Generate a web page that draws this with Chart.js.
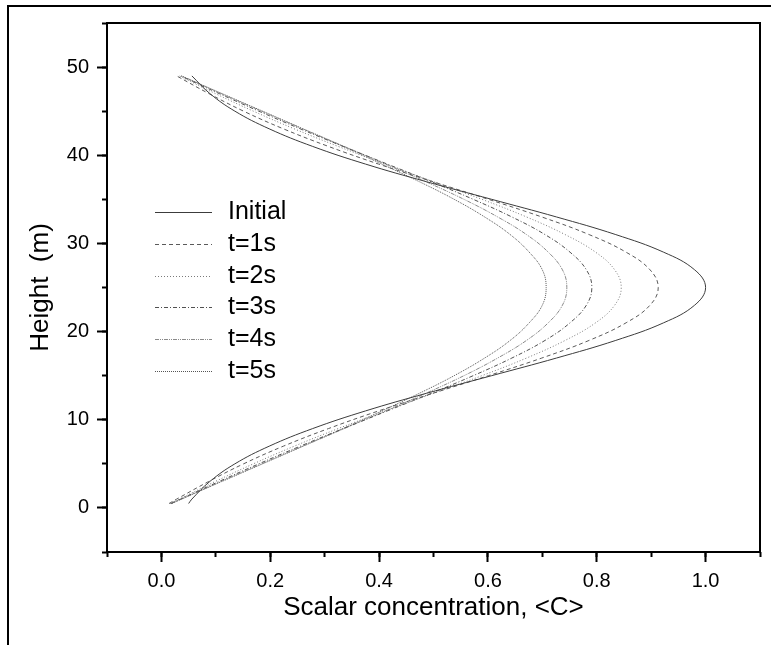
<!DOCTYPE html>
<html>
<head>
<meta charset="utf-8">
<title>Scalar concentration profiles</title>
<script src="https://cdn.jsdelivr.net/npm/chart.js@4.4.1/dist/chart.umd.min.js"></script>
<style>
    html, body { margin: 0; padding: 0; background: #fff; overflow: hidden; }
    #wrap { position: relative; width: 771px; height: 645px; }
    #frame {
        position: absolute; left: 7px; top: 5px; width: 800px; height: 700px;
        border-top: 2px solid #000; border-left: 2px solid #000;
        pointer-events: none;
    }
</style>
</head>
<body>
<div id="wrap">
    <canvas id="profileChart" width="771" height="645"></canvas>
    <div id="frame"></div>
</div>
<script>
    'use strict';

    const heights = [0.5, 1, 3, 5, 7, 9, 11, 13, 15, 17, 19, 21, 23, 25,
                     27, 29, 31, 33, 35, 37, 39, 41, 43, 45, 47, 49];

    // Scalar concentration <C> for each profile, one value per height
    const initial = [0.050, 0.056, 0.089, 0.135, 0.198, 0.278, 0.375, 0.487, 0.607, 0.726, 0.835, 0.923, 0.980, 1.000,
                     0.980, 0.923, 0.835, 0.726, 0.607, 0.487, 0.375, 0.278, 0.198, 0.135, 0.089, 0.056];
    const t1 = [0.014, 0.028, 0.087, 0.151, 0.224, 0.307, 0.399, 0.499, 0.601, 0.699, 0.786, 0.854, 0.898, 0.913,
                0.898, 0.854, 0.786, 0.699, 0.601, 0.499, 0.399, 0.307, 0.224, 0.151, 0.087, 0.028];
    const t2 = [0.016, 0.033, 0.099, 0.169, 0.244, 0.325, 0.411, 0.500, 0.589, 0.671, 0.742, 0.798, 0.833, 0.845,
                0.833, 0.798, 0.742, 0.671, 0.589, 0.500, 0.411, 0.325, 0.244, 0.169, 0.099, 0.033];
    const t3 = [0.018, 0.035, 0.106, 0.179, 0.255, 0.334, 0.415, 0.496, 0.573, 0.644, 0.705, 0.751, 0.781, 0.791,
                0.781, 0.751, 0.705, 0.644, 0.573, 0.496, 0.415, 0.334, 0.255, 0.179, 0.106, 0.035];
    const t4 = [0.018, 0.037, 0.110, 0.184, 0.260, 0.336, 0.412, 0.486, 0.556, 0.618, 0.671, 0.711, 0.737, 0.745,
                0.737, 0.711, 0.671, 0.618, 0.556, 0.486, 0.412, 0.336, 0.260, 0.184, 0.110, 0.037];
    const t5 = [0.019, 0.037, 0.111, 0.186, 0.260, 0.334, 0.405, 0.474, 0.538, 0.594, 0.641, 0.676, 0.700, 0.707,
                0.700, 0.676, 0.641, 0.594, 0.538, 0.474, 0.405, 0.334, 0.260, 0.186, 0.111, 0.037];

    const seriesLabels = ['Initial', 't=1s', 't=2s', 't=3s', 't=4s', 't=5s'];
    const seriesValues = [initial, t1, t2, t3, t4, t5];

    // Labelled (major) ticks; the unlabelled ones sit halfway between
    const xMajorTicks = [0.0, 0.2, 0.4, 0.6, 0.8, 1.0];
    const yMajorTicks = [0, 10, 20, 30, 40, 50];

    const FONT = "'Liberation Sans', Arial, sans-serif";

    // Line look for each profile
    const lineStyles = [
        { color: '#3c3c3c', dash: [] },
        { color: '#5a5a5a', dash: [4, 3] },
        { color: '#7a7a7a', dash: [1, 2] },
        { color: '#505050', dash: [4, 2, 1, 2] },
        { color: '#8a8a8a', dash: [4, 1, 1, 1, 1, 1] },
        { color: '#555555', dash: [1, 1] }
    ];

    function isMajor(list, value) {
        return list.some(v => Math.abs(v - value) < 1e-6);
    }

    /**
     * Legend drawn inside the plot area, like the original figure
     */
    const insideLegend = {
        id: 'insideLegend',
        afterDatasetsDraw(chart) {
            const ctx = chart.ctx;
            const area = chart.chartArea;
            const x0 = area.left + 48;
            const y0 = area.top + 189;
            const rowGap = 31.8;

            ctx.save();
            ctx.font = '25px ' + FONT;
            ctx.textBaseline = 'middle';
            chart.data.datasets.forEach((ds, i) => {
                const y = Math.round(y0 + i * rowGap) + 0.5;
                ctx.beginPath();
                ctx.setLineDash(ds.borderDash || []);
                ctx.strokeStyle = ds.borderColor;
                ctx.lineWidth = 1;
                ctx.moveTo(x0, y);
                ctx.lineTo(x0 + 57, y);
                ctx.stroke();
                ctx.setLineDash([]);
                ctx.fillStyle = '#000';
                ctx.fillText(ds.label, x0 + 73, y);
            });
            ctx.restore();
        }
    };

    function initProfileChart(canvasId) {
        const canvas = document.getElementById(canvasId);

        const datasets = seriesValues.map((values, i) => ({
            label: seriesLabels[i],
            data: values.map((c, k) => ({ x: c, y: heights[k] })),
            showLine: true,
            borderColor: lineStyles[i].color,
            borderDash: lineStyles[i].dash,
            borderWidth: 1,
            pointRadius: 0,
            tension: 0.4,
            fill: false
        }));

        return new Chart(canvas, {
            type: 'scatter',
            data: { datasets: datasets },
            options: {
                responsive: false,
                animation: false,
                layout: { padding: { top: 23, right: 11, bottom: 0, left: 0 } },
                plugins: {
                    legend: { display: false },
                    tooltip: { enabled: false },
                    title: { display: false }
                },
                scales: {
                    x: {
                        type: 'linear',
                        position: 'bottom',
                        min: -0.1,
                        max: 1.1,
                        afterFit: s => { s.height = 93; },
                        ticks: {
                            stepSize: 0.1,
                            autoSkip: false,
                            maxRotation: 0,
                            padding: 7,
                            color: '#000',
                            font: { family: FONT, size: 20 },
                            callback: v => isMajor(xMajorTicks, v) ? Number(v).toFixed(1) : ''
                        },
                        grid: {
                            drawOnChartArea: false,
                            tickLength: 10,
                            tickWidth: 2,
                            tickColor: c => isMajor(xMajorTicks, c.tick.value) ? '#000' : 'rgba(0,0,0,0)'
                        },
                        border: { color: '#000', width: 2 },
                        title: {
                            display: true,
                            text: 'Scalar concentration, <C>',
                            color: '#000',
                            font: { family: FONT, size: 26 },
                            padding: { top: 0, bottom: 22 }
                        }
                    },
                    xMinor: {
                        type: 'linear',
                        position: { y: -5 },
                        min: -0.1,
                        max: 1.1,
                        afterFit: s => { s.height = 0; },
                        ticks: { display: false, stepSize: 0.1, autoSkip: false },
                        grid: { drawOnChartArea: false, tickLength: 5, tickWidth: 2, tickColor: '#000' },
                        border: { display: false }
                    },
                    xTop: {
                        type: 'linear',
                        position: 'top',
                        min: -0.1,
                        max: 1.1,
                        afterFit: s => { s.height = 0; },
                        ticks: { display: false },
                        grid: { drawOnChartArea: false, drawTicks: false },
                        border: { color: '#000', width: 2 }
                    },
                    y: {
                        type: 'linear',
                        position: 'left',
                        min: -5,
                        max: 55,
                        afterFit: s => { s.width = 107; },
                        ticks: {
                            stepSize: 5,
                            autoSkip: false,
                            padding: 8,
                            color: '#000',
                            font: { family: FONT, size: 20 },
                            callback: v => isMajor(yMajorTicks, v) ? String(v) : ''
                        },
                        grid: {
                            drawOnChartArea: false,
                            tickLength: 10,
                            tickWidth: 2,
                            tickColor: c => isMajor(yMajorTicks, c.tick.value) ? '#000' : 'rgba(0,0,0,0)'
                        },
                        border: { color: '#000', width: 2 },
                        title: {
                            display: true,
                            text: 'Height  (m)',
                            color: '#000',
                            font: { family: FONT, size: 26 },
                            padding: { top: 25, bottom: 0 }
                        }
                    },
                    yMinor: {
                        type: 'linear',
                        position: { x: -0.1 },
                        min: -5,
                        max: 55,
                        afterFit: s => { s.width = 0; },
                        ticks: { display: false, stepSize: 5, autoSkip: false },
                        grid: { drawOnChartArea: false, tickLength: 5, tickWidth: 2, tickColor: '#000' },
                        border: { display: false }
                    },
                    yRight: {
                        type: 'linear',
                        position: 'right',
                        min: -5,
                        max: 55,
                        afterFit: s => { s.width = 0; },
                        ticks: { display: false },
                        grid: { drawOnChartArea: false, drawTicks: false },
                        border: { color: '#000', width: 2 }
                    }
                }
            },
            plugins: [insideLegend]
        });
    }

    initProfileChart('profileChart');
</script>
</body>
</html>
